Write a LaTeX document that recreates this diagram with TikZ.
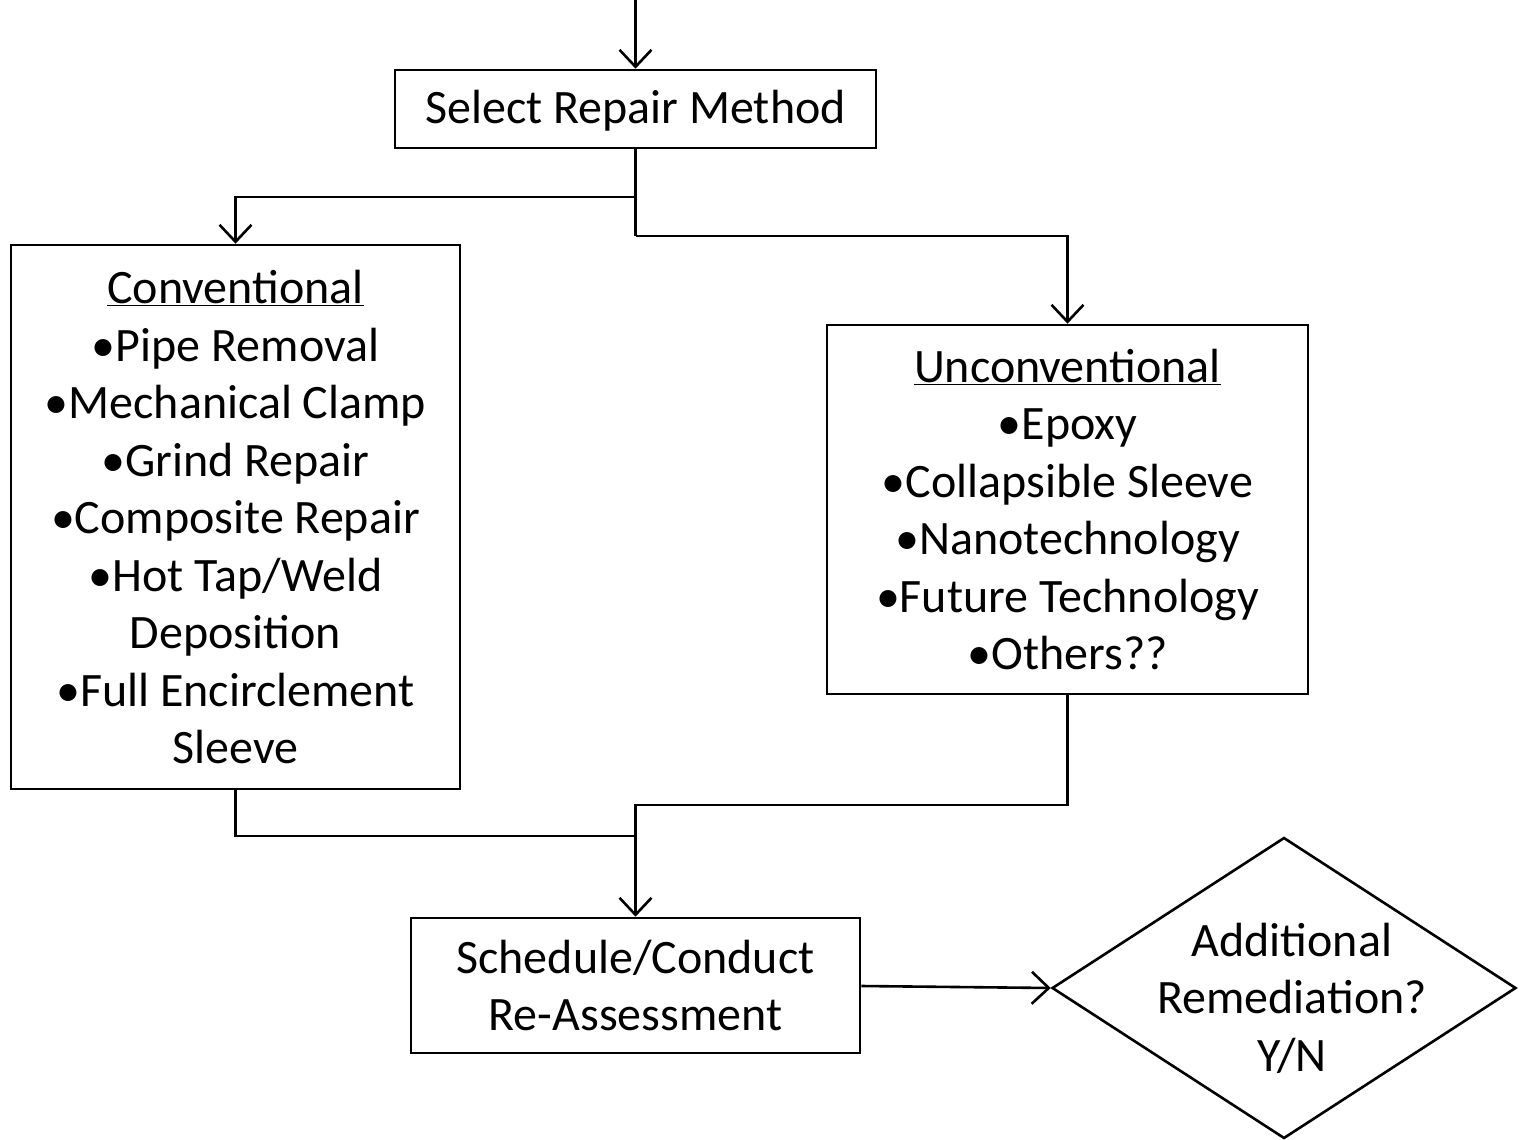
\documentclass[tikz,border=0pt]{standalone}
\usepackage{fontspec}
\setmainfont{Carlito}
\usetikzlibrary{arrows.meta,shapes.geometric}
\begin{document}
\begin{tikzpicture}[x=1pt,y=-1pt,
  line width=2.6pt,
  txt/.style={font=\fontsize{48}{57.5}\selectfont},
  box/.style={draw,rectangle,inner sep=0pt,align=center,txt},
  conn/.style={-{Straight Barb[length=17pt,width=32pt,line width=2.6pt]}}]
\useasboundingbox (0,0) rectangle (1521,1140);
\node[box,minimum width=481pt,minimum height=78pt,text depth=4pt] (sel) at (635.5,109) {Select Repair Method};
\node[box,minimum width=449pt,minimum height=544pt] (conv) at (235.5,517) {\underline{Conventional}\\•Pipe Removal\\•Mechanical Clamp\\•Grind Repair\\•Composite Repair\\•Hot Tap/Weld\\Deposition\\•Full Encirclement\\Sleeve};
\node[box,minimum width=481pt,minimum height=369pt] (unc) at (1067.5,509.5) {\underline{Unconventional}\\•Epoxy\\•Collapsible Sleeve\\•Nanotechnology\\•Future Technology\\•Others??};
\node[box,minimum width=449pt,minimum height=135pt] (sch) at (635.5,985.5) {Schedule/Conduct\\Re-Assessment};
\node[draw,diamond,inner sep=0pt,minimum width=464pt,minimum height=301pt] (dia) at (1284,988) {};
\node[txt,align=center] (diat) at (1292,998) {Additional\\Remediation?\\Y/N};
\coordinate (top) at (635.5,0);
\coordinate (s1) at (635.5,197);
\coordinate (s2) at (635.5,236);
\coordinate (m1) at (635.5,836);
\coordinate (m2) at (635.5,805);
\draw[conn] (top) -- (sel.north);
\draw (sel.south) -- (s2);
\draw[conn] (s1) -| (conv.north);
\draw[conn] (s2) -| (unc.north);
\draw (conv.south) |- (m1);
\draw (unc.south) |- (m2) -- (m1);
\draw[conn] (m2) -- (sch.north);
\draw[conn] (sch.east |- 0,986) -- (dia.west);
\end{tikzpicture}
\end{document}
